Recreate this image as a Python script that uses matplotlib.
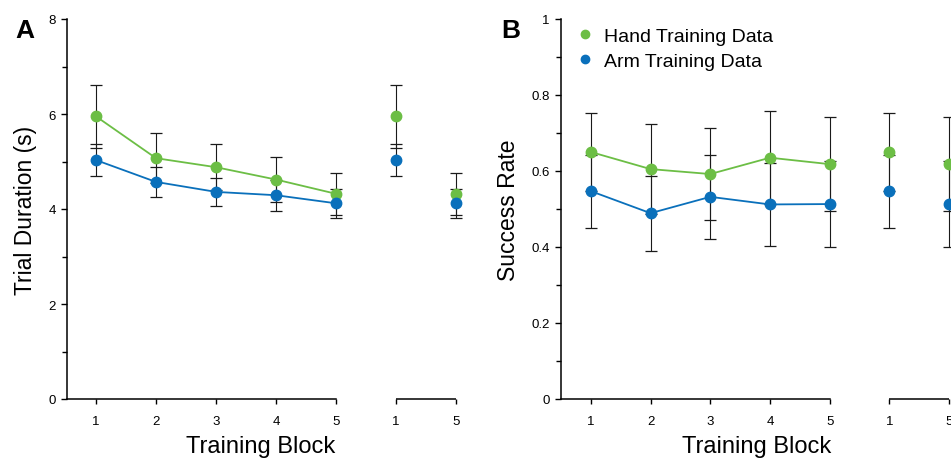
import matplotlib
matplotlib.use('Agg')
import matplotlib.pyplot as plt
from matplotlib.lines import Line2D

plt.rcParams['font.family'] = ['Liberation Sans', 'DejaVu Sans']

# training blocks 1-5, then first vs last block repeated on the right
blocks = [1, 2, 3, 4, 5]
compare_idx = [0, 4]
compare_pos = [6, 7]
xtick_labels = ['1', '2', '3', '4', '5', '1', '5']

# panel A: trial duration (s)
hand_dur = [5.95, 5.07, 4.88, 4.62, 4.32]
hand_dur_err = [0.67, 0.53, 0.48, 0.48, 0.44]
arm_dur = [5.03, 4.57, 4.36, 4.29, 4.12]
arm_dur_err = [0.34, 0.32, 0.29, 0.33, 0.30]

# panel B: success rate
hand_sr = [0.650, 0.605, 0.592, 0.635, 0.618]
hand_sr_err = [0.103, 0.119, 0.121, 0.122, 0.123]
arm_sr = [0.547, 0.489, 0.532, 0.512, 0.513]
arm_sr_err = [0.096, 0.099, 0.111, 0.109, 0.114]

dur_ticks = [0, 2, 4, 6, 8]
dur_minor = [1, 3, 5, 7]
sr_ticks = [0, 0.2, 0.4, 0.6, 0.8, 1.0]
sr_tick_labels = ['0', '0.2', '0.4', '0.6', '0.8', '1']
sr_minor = [0.1, 0.3, 0.5, 0.7, 0.9]

GREEN = '#6cbe45'
BLUE = '#0a70bb'


def draw_series(ax, vals, errs, color, label):
    cvals = [vals[i] for i in compare_idx]
    cerrs = [errs[i] for i in compare_idx]
    ax.errorbar(blocks, vals, yerr=errs, fmt='none', ecolor='#1a1a1a',
                elinewidth=0.8, capsize=4, capthick=0.9, zorder=2)
    ax.errorbar(compare_pos, cvals, yerr=cerrs, fmt='none', ecolor='#1a1a1a',
                elinewidth=0.8, capsize=4, capthick=0.9, zorder=2)
    ax.plot(blocks, vals, '-o', color=color, ms=7.5, lw=1.3, zorder=3, label=label)
    ax.plot(compare_pos, cvals, 'o', color=color, ms=7.5, zorder=3)


def style_axes(ax, xlim, ylim, yticks, ylabels, yminor, ylabel):
    ax.set_xlim(*xlim)
    ax.set_ylim(*ylim)
    ax.spines['top'].set_visible(False)
    ax.spines['right'].set_visible(False)
    ax.spines['left'].set_linewidth(1.1)
    ax.spines['bottom'].set_linewidth(1.1)
    ax.spines['bottom'].set_bounds(xlim[0], blocks[-1])
    ax.plot(compare_pos, [0, 0], transform=ax.get_xaxis_transform(),
            color='black', lw=1.1, clip_on=False, solid_capstyle='butt')
    ax.set_xticks(blocks + compare_pos)
    ax.set_xticklabels(xtick_labels)
    ax.set_yticks(yticks)
    ax.set_yticklabels(ylabels)
    ax.set_yticks(yminor, minor=True)
    ax.tick_params(axis='x', direction='out', length=3.5, width=1.0, pad=8, labelsize=9.5)
    ax.tick_params(axis='y', which='major', direction='out', length=4, width=1.0, pad=4, labelsize=9.5)
    ax.tick_params(axis='y', which='minor', direction='out', length=3.5, width=1.0)
    ax.set_xlabel('Training Block', fontsize=17, labelpad=6)
    ax.xaxis.label.set_x(0.483)
    ax.set_ylabel(ylabel, fontsize=16.5, labelpad=8)


fig = plt.figure(figsize=(9.51, 4.60), dpi=100)

axA = fig.add_axes([67 / 951, 60 / 460, 401 / 951, 380 / 460])
draw_series(axA, hand_dur, hand_dur_err, GREEN, 'Hand Training Data')
draw_series(axA, arm_dur, arm_dur_err, BLUE, 'Arm Training Data')
style_axes(axA, (0.517, 7.2), (0, 8), dur_ticks, [str(t) for t in dur_ticks],
           dur_minor, 'Trial Duration (s)')

axB = fig.add_axes([561 / 951, 60 / 460, 406 / 951, 380 / 460])
draw_series(axB, hand_sr, hand_sr_err, GREEN, 'Hand Training Data')
draw_series(axB, arm_sr, arm_sr_err, BLUE, 'Arm Training Data')
style_axes(axB, (0.5, 7.3), (0, 1), sr_ticks, sr_tick_labels, sr_minor, 'Success Rate')

handles, labels = axB.get_legend_handles_labels()
leg_handles = [Line2D([], [], marker='o', ls='none', color=h.get_color(), ms=6) for h in handles]
axB.legend(leg_handles, labels, loc='upper left', bbox_to_anchor=(0.02, 0.998),
           frameon=False, fontsize=14, handlelength=0.8, handletextpad=0.6,
           labelspacing=0.35, borderaxespad=0)

fig.text(15 / 951, 1 - 38 / 460, 'A', fontsize=19, fontweight='bold', va='baseline')
fig.text(501 / 951, 1 - 38 / 460, 'B', fontsize=19, fontweight='bold', va='baseline')

fig.savefig('out.png', dpi=100)
plt.close(fig)
